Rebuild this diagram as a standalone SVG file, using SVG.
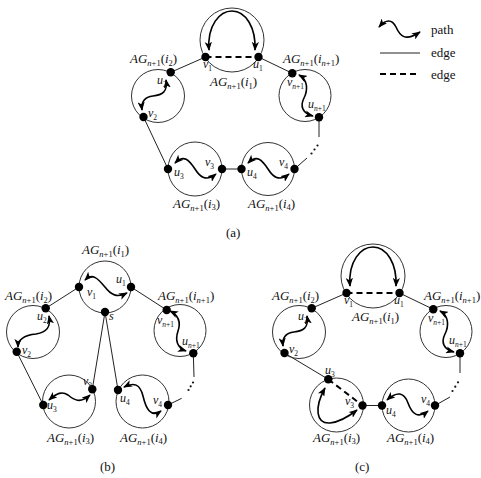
<svg xmlns="http://www.w3.org/2000/svg" width="481" height="478" viewBox="0 0 481 478">
<defs>
<style>
.ring{fill:none;stroke:#333;stroke-width:1}
.edge{fill:none;stroke:#222;stroke-width:1}
.dash{fill:none;stroke:#000;stroke-width:2;stroke-dasharray:6 4}
.pth{fill:none;stroke:#000;stroke-width:1.6;marker-start:url(#arr);marker-end:url(#arr)}
.dot{fill:#000}
.el{fill:#111}
.t{font-family:"Liberation Serif","Times New Roman",serif;font-size:13px;fill:#111}
.n{font-size:12px}
.i{font-style:italic}
.s{font-size:8.5px}
.ns{font-size:7.5px}
</style>
<marker id="arr" viewBox="0 0 10 8" refX="9" refY="4" markerWidth="9" markerHeight="7.2" orient="auto-start-reverse" markerUnits="userSpaceOnUse">
<path d="M0,0 L10,4 L0,8 L2.5,4 z" fill="#000"/>
</marker>
</defs>
<rect width="481" height="478" fill="#fff"/>

<g id="connectors">
<!-- (a) -->
<line class="dash" x1="205.5" y1="57" x2="258.5" y2="57"/>
<line class="edge" x1="205.5" y1="57" x2="170.7" y2="72.3"/>
<line class="edge" x1="258.5" y1="57" x2="292.3" y2="73.3"/>
<line class="edge" x1="143.5" y1="117" x2="168" y2="169"/>
<line class="edge" x1="222" y1="169" x2="241.5" y2="169"/>
<line class="edge" x1="294.5" y1="169" x2="307" y2="158"/>
<line class="edge" x1="319" y1="117.3" x2="319" y2="137"/>
<circle class="el" cx="311.5" cy="153.5" r="1.1"/><circle class="el" cx="314.5" cy="149.5" r="1.1"/><circle class="el" cx="317.5" cy="145.5" r="1.1"/>
<!-- (b) -->
<line class="edge" x1="79" y1="287" x2="45.7" y2="308.3"/>
<line class="edge" x1="131" y1="287" x2="166.7" y2="310"/>
<line class="edge" x1="16.7" y1="351.7" x2="43.3" y2="405"/>
<line class="edge" x1="105" y1="312" x2="92.3" y2="389.3"/>
<line class="edge" x1="105" y1="312" x2="118" y2="390"/>
<line class="edge" x1="193.3" y1="353.3" x2="194" y2="377"/>
<circle class="el" cx="188.5" cy="390" r="1.1"/><circle class="el" cx="190.7" cy="386.3" r="1.1"/><circle class="el" cx="193" cy="382.5" r="1.1"/>
<line class="edge" x1="181.7" y1="398.3" x2="168" y2="405"/>
<!-- (c) -->
<line class="dash" x1="346.5" y1="293" x2="399.5" y2="293"/>
<line class="edge" x1="346.5" y1="293" x2="311.7" y2="308.3"/>
<line class="edge" x1="399.5" y1="293" x2="433.3" y2="309.3"/>
<line class="edge" x1="284.5" y1="353" x2="328.3" y2="379.3"/>
<line class="dash" x1="328.3" y1="379.3" x2="362.5" y2="405.5"/>
<line class="edge" x1="362.5" y1="405.5" x2="382" y2="405.5"/>
<line class="edge" x1="460" y1="353.3" x2="460" y2="373"/>
<circle class="el" cx="452.5" cy="391" r="1.1"/><circle class="el" cx="455.3" cy="386.7" r="1.1"/><circle class="el" cx="458" cy="382.3" r="1.1"/>
<line class="edge" x1="450" y1="397" x2="435" y2="405.5"/>
</g>

<!-- ===== (a) ===== -->
<g id="a-i1">
<circle class="ring" cx="232" cy="40" r="32"/>
<path class="pth" d="M 209,50 C 207,25 220,11 232,11 C 246,11 256,28 255,50"/>
<circle class="dot" cx="205.5" cy="57" r="4.2"/><circle class="dot" cx="258.5" cy="57" r="4.2"/>
<text class="t n" x="203" y="68"><tspan class="i">v</tspan><tspan class="ns" dy="3">1</tspan></text>
<text class="t n" x="253" y="68"><tspan class="i">u</tspan><tspan class="ns" dy="3">1</tspan></text>
<text class="t" x="210" y="86"><tspan class="i">AG</tspan><tspan class="s" dy="3"><tspan class="i">n</tspan>+1</tspan><tspan dy="-3">(</tspan><tspan class="i">i</tspan><tspan class="s" dy="3">1</tspan><tspan dy="-3">)</tspan></text>
</g>
<g id="a-i2">
<circle class="ring" cx="158" cy="96" r="26.5"/>
<path class="pth" d="M 166,80 C 168,92 162,95 153,96 C 145,97 141,101 142,110"/>
<circle class="dot" cx="170.7" cy="72.3" r="4.2"/><circle class="dot" cx="143.5" cy="117" r="4.2"/>
<text class="t n" x="157" y="83.5"><tspan class="i">u</tspan><tspan class="ns" dy="3">2</tspan></text>
<text class="t n" x="148" y="117"><tspan class="i">v</tspan><tspan class="ns" dy="3">2</tspan></text>
<text class="t" x="130" y="63"><tspan class="i">AG</tspan><tspan class="s" dy="3"><tspan class="i">n</tspan>+1</tspan><tspan dy="-3">(</tspan><tspan class="i">i</tspan><tspan class="s" dy="3">2</tspan><tspan dy="-3">)</tspan></text>
</g>
<g id="a-in1">
<circle class="ring" cx="305" cy="95.5" r="26"/>
<path class="pth" d="M 299,75 C 308,80 308,90 304,98 C 300,106 302,113 313,116"/>
<circle class="dot" cx="292.3" cy="73.3" r="4.2"/><circle class="dot" cx="319" cy="117.3" r="4.2"/>
<text class="t n" x="287" y="86"><tspan class="i">v</tspan><tspan class="ns" dy="3"><tspan class="i">n</tspan>+1</tspan></text>
<text class="t n" x="308" y="108"><tspan class="i">u</tspan><tspan class="ns" dy="3"><tspan class="i">n</tspan>+1</tspan></text>
<text class="t" x="283" y="63"><tspan class="i">AG</tspan><tspan class="s" dy="3"><tspan class="i">n</tspan>+1</tspan><tspan dy="-3">(</tspan><tspan class="i">i</tspan><tspan class="s" dy="3"><tspan class="i">n</tspan>+1</tspan><tspan dy="-3">)</tspan></text>
</g>
<g id="a-i3">
<circle class="ring" cx="195" cy="169" r="27"/>
<path class="pth" d="M 175,163 C 184,154 189,160 195,169 C 200,177 206,182 216,174"/>
<circle class="dot" cx="168" cy="169" r="4.2"/><circle class="dot" cx="222" cy="169" r="4.2"/>
<text class="t n" x="174" y="176"><tspan class="i">u</tspan><tspan class="ns" dy="3">3</tspan></text>
<text class="t n" x="205" y="166"><tspan class="i">v</tspan><tspan class="ns" dy="3">3</tspan></text>
<text class="t" x="173" y="208"><tspan class="i">AG</tspan><tspan class="s" dy="3"><tspan class="i">n</tspan>+1</tspan><tspan dy="-3">(</tspan><tspan class="i">i</tspan><tspan class="s" dy="1.5">3</tspan><tspan dy="-1.5">)</tspan></text>
</g>
<g id="a-i4">
<circle class="ring" cx="268" cy="169" r="26.5"/>
<path class="pth" d="M 248,163 C 257,154 262,160 268,169 C 273,177 279,182 289,174"/>
<circle class="dot" cx="241.5" cy="169" r="4.2"/><circle class="dot" cx="294.5" cy="169" r="4.2"/>
<text class="t n" x="247" y="176"><tspan class="i">u</tspan><tspan class="ns" dy="3">4</tspan></text>
<text class="t n" x="279" y="166"><tspan class="i">v</tspan><tspan class="ns" dy="3">4</tspan></text>
<text class="t" x="248" y="208"><tspan class="i">AG</tspan><tspan class="s" dy="3"><tspan class="i">n</tspan>+1</tspan><tspan dy="-3">(</tspan><tspan class="i">i</tspan><tspan class="s" dy="1.5">4</tspan><tspan dy="-1.5">)</tspan></text>
</g>
<text class="t" x="226" y="237">(a)</text>

<g id="legend">
<path class="pth" d="M 379,27 C 386,19 392,19 396,27 C 400,36 405,42 420,32"/>
<text class="t" x="431" y="34">path</text>
<line class="edge" x1="380" y1="53" x2="420" y2="53"/>
<text class="t" x="431" y="57">edge</text>
<line class="dash" x1="380" y1="74" x2="420" y2="74"/>
<text class="t" x="431" y="79">edge</text>
</g>

<!-- ===== (b) ===== -->
<g id="b-i1">
<circle class="ring" cx="105" cy="287" r="26"/>
<path class="pth" d="M 85,280 C 93,272 99,280 105,287 C 111,295 117,298 127,293"/>
<circle class="dot" cx="79" cy="287" r="4.2"/><circle class="dot" cx="131" cy="287" r="4.2"/><circle class="dot" cx="105" cy="312" r="4.2"/>
<text class="t n" x="87" y="296"><tspan class="i">v</tspan><tspan class="ns" dy="3">1</tspan></text>
<text class="t n" x="116" y="283"><tspan class="i">u</tspan><tspan class="ns" dy="3">1</tspan></text>
<text class="t n i" x="109" y="320">s</text>
<text class="t" x="82" y="254"><tspan class="i">AG</tspan><tspan class="s" dy="3"><tspan class="i">n</tspan>+1</tspan><tspan dy="-3">(</tspan><tspan class="i">i</tspan><tspan class="s" dy="3">1</tspan><tspan dy="-3">)</tspan></text>
</g>
<g id="b-i2">
<circle class="ring" cx="33" cy="332" r="26.5"/>
<path class="pth" d="M 49,316 C 51,327 47,332 36,334 C 26,335 18,338 18,347"/>
<circle class="dot" cx="45.7" cy="308.3" r="4.2"/><circle class="dot" cx="16.7" cy="351.7" r="4.2"/>
<text class="t n" x="37" y="320"><tspan class="i">u</tspan><tspan class="ns" dy="3">2</tspan></text>
<text class="t n" x="22" y="354"><tspan class="i">v</tspan><tspan class="ns" dy="3">2</tspan></text>
<text class="t" x="5" y="300"><tspan class="i">AG</tspan><tspan class="s" dy="3"><tspan class="i">n</tspan>+1</tspan><tspan dy="-3">(</tspan><tspan class="i">i</tspan><tspan class="s" dy="3">2</tspan><tspan dy="-3">)</tspan></text>
</g>
<g id="b-in1">
<circle class="ring" cx="180" cy="330.5" r="26"/>
<path class="pth" d="M 170,311 C 178,315 181,322 178,331 C 175,340 177,348 186,351"/>
<circle class="dot" cx="166.7" cy="310" r="4.2"/><circle class="dot" cx="193.3" cy="353.3" r="4.2"/>
<text class="t n" x="157" y="324"><tspan class="i">v</tspan><tspan class="ns" dy="3"><tspan class="i">n</tspan>+1</tspan></text>
<text class="t n" x="182" y="345"><tspan class="i">u</tspan><tspan class="ns" dy="3"><tspan class="i">n</tspan>+1</tspan></text>
<text class="t" x="158" y="300"><tspan class="i">AG</tspan><tspan class="s" dy="3"><tspan class="i">n</tspan>+1</tspan><tspan dy="-3">(</tspan><tspan class="i">i</tspan><tspan class="s" dy="3"><tspan class="i">n</tspan>+1</tspan><tspan dy="-3">)</tspan></text>
</g>
<g id="b-i3">
<circle class="ring" cx="69" cy="401.5" r="26.5"/>
<path class="pth" d="M 49,400 C 57,393 62,391 68,395 C 74,400 80,404 90,395"/>
<circle class="dot" cx="43.3" cy="405" r="4.2"/><circle class="dot" cx="92.3" cy="389.3" r="4.2"/>
<text class="t n" x="47" y="409"><tspan class="i">u</tspan><tspan class="ns" dy="3">3</tspan></text>
<text class="t n" x="83" y="384.5"><tspan class="i">v</tspan><tspan class="ns" dy="3">3</tspan></text>
<text class="t" x="47" y="442"><tspan class="i">AG</tspan><tspan class="s" dy="3"><tspan class="i">n</tspan>+1</tspan><tspan dy="-3">(</tspan><tspan class="i">i</tspan><tspan class="s" dy="1.5">3</tspan><tspan dy="-1.5">)</tspan></text>
</g>
<g id="b-i4">
<circle class="ring" cx="142.5" cy="401.5" r="26.5"/>
<path class="pth" d="M 124,387 C 134,382 140,384 143,396 C 146,409 151,418 161,411"/>
<circle class="dot" cx="118" cy="390" r="4.2"/><circle class="dot" cx="168" cy="405" r="4.2"/>
<text class="t n" x="120" y="402"><tspan class="i">u</tspan><tspan class="ns" dy="3">4</tspan></text>
<text class="t n" x="153" y="403.5"><tspan class="i">v</tspan><tspan class="ns" dy="3">4</tspan></text>
<text class="t" x="120" y="442"><tspan class="i">AG</tspan><tspan class="s" dy="3"><tspan class="i">n</tspan>+1</tspan><tspan dy="-3">(</tspan><tspan class="i">i</tspan><tspan class="s" dy="1.5">4</tspan><tspan dy="-1.5">)</tspan></text>
</g>
<text class="t" x="100" y="471">(b)</text>

<!-- ===== (c) ===== -->
<g id="c-i1" transform="translate(141,236)">
<circle class="ring" cx="232" cy="40" r="32"/>
<path class="pth" d="M 209,50 C 207,25 220,11 232,11 C 246,11 256,28 255,50"/>
<circle class="dot" cx="205.5" cy="57" r="4.2"/><circle class="dot" cx="258.5" cy="57" r="4.2"/>
<text class="t n" x="203" y="68"><tspan class="i">v</tspan><tspan class="ns" dy="3">1</tspan></text>
<text class="t n" x="253" y="68"><tspan class="i">u</tspan><tspan class="ns" dy="3">1</tspan></text>
<text class="t" x="211" y="85"><tspan class="i">AG</tspan><tspan class="s" dy="3"><tspan class="i">n</tspan>+1</tspan><tspan dy="-3">(</tspan><tspan class="i">i</tspan><tspan class="s" dy="3">1</tspan><tspan dy="-3">)</tspan></text>
</g>
<g id="c-i2" transform="translate(141,236)">
<circle class="ring" cx="158" cy="96" r="26.5"/>
<path class="pth" d="M 166,80 C 168,92 162,95 153,96 C 145,97 141,101 142,110"/>
<circle class="dot" cx="170.7" cy="72.3" r="4.2"/><circle class="dot" cx="143.5" cy="117" r="4.2"/>
<text class="t n" x="157" y="83.5"><tspan class="i">u</tspan><tspan class="ns" dy="3">2</tspan></text>
<text class="t n" x="148" y="117"><tspan class="i">v</tspan><tspan class="ns" dy="3">2</tspan></text>
<text class="t" x="131" y="64"><tspan class="i">AG</tspan><tspan class="s" dy="3"><tspan class="i">n</tspan>+1</tspan><tspan dy="-3">(</tspan><tspan class="i">i</tspan><tspan class="s" dy="3">2</tspan><tspan dy="-3">)</tspan></text>
</g>
<g id="c-in1" transform="translate(141,236)">
<circle class="ring" cx="305" cy="95.5" r="26"/>
<path class="pth" d="M 299,75 C 308,80 308,90 304,98 C 300,106 302,113 313,116"/>
<circle class="dot" cx="292.3" cy="73.3" r="4.2"/><circle class="dot" cx="319" cy="117.3" r="4.2"/>
<text class="t n" x="287" y="86"><tspan class="i">v</tspan><tspan class="ns" dy="3"><tspan class="i">n</tspan>+1</tspan></text>
<text class="t n" x="308" y="108"><tspan class="i">u</tspan><tspan class="ns" dy="3"><tspan class="i">n</tspan>+1</tspan></text>
<text class="t" x="283" y="64"><tspan class="i">AG</tspan><tspan class="s" dy="3"><tspan class="i">n</tspan>+1</tspan><tspan dy="-3">(</tspan><tspan class="i">i</tspan><tspan class="s" dy="3"><tspan class="i">n</tspan>+1</tspan><tspan dy="-3">)</tspan></text>
</g>
<g id="c-i3">
<circle class="ring" cx="336.5" cy="405" r="27"/>
<path class="pth" d="M 325,388 C 314,408 316,424 330,423 C 340,422 348,417 357,410"/>
<circle class="dot" cx="328.3" cy="379.3" r="4.2"/><circle class="dot" cx="362.5" cy="405.5" r="4.2"/>
<text class="t n" x="325" y="374"><tspan class="i">u</tspan><tspan class="ns" dy="3">3</tspan></text>
<text class="t n" x="345" y="405"><tspan class="i">v</tspan><tspan class="ns" dy="3">3</tspan></text>
<text class="t" x="313" y="442"><tspan class="i">AG</tspan><tspan class="s" dy="3"><tspan class="i">n</tspan>+1</tspan><tspan dy="-3">(</tspan><tspan class="i">i</tspan><tspan class="s" dy="1.5">3</tspan><tspan dy="-1.5">)</tspan></text>
</g>
<g id="c-i4">
<circle class="ring" cx="408.5" cy="405.5" r="26.5"/>
<path class="pth" d="M 387,400 C 397,391 404,392 408,403 C 412,414 418,419 428,411"/>
<circle class="dot" cx="382" cy="405.5" r="4.2"/><circle class="dot" cx="435" cy="405.5" r="4.2"/>
<text class="t n" x="386" y="414"><tspan class="i">u</tspan><tspan class="ns" dy="3">4</tspan></text>
<text class="t n" x="421" y="403"><tspan class="i">v</tspan><tspan class="ns" dy="3">4</tspan></text>
<text class="t" x="387" y="442"><tspan class="i">AG</tspan><tspan class="s" dy="3"><tspan class="i">n</tspan>+1</tspan><tspan dy="-3">(</tspan><tspan class="i">i</tspan><tspan class="s" dy="1.5">4</tspan><tspan dy="-1.5">)</tspan></text>
</g>
<text class="t" x="355" y="471">(c)</text>
</svg>
